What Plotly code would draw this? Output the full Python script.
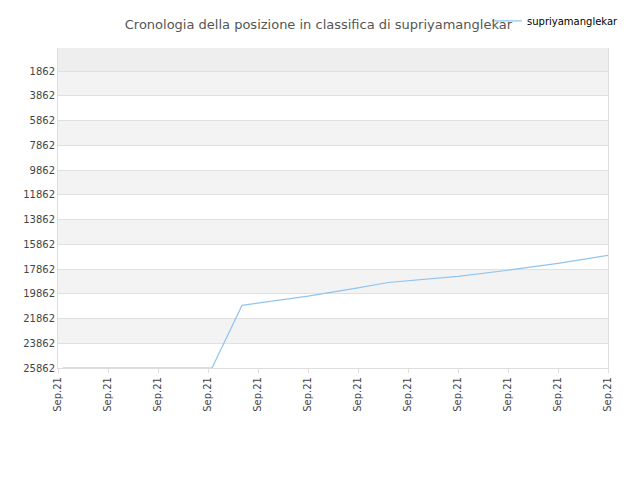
import plotly.graph_objects as go

x_vals = [0.1, 1, 2, 3.08, 3.68, 5.0, 6.0, 6.6, 8.0, 9.0, 10.0, 11.0]
ranks = [25862, 25862, 25862, 25862, 20800, 20060, 19390, 18950, 18450, 17960, 17400, 16760]
tick_pos = list(range(12))
tick_text = ["Sep.21"] * 12
y_ticks = [1862 + 2000 * i for i in range(13)]
y_text = [str(v) for v in y_ticks]

fig = go.Figure()
fig.add_trace(go.Scatter(x=x_vals, y=ranks, mode="lines", name="supriyamanglekar",
                         line=dict(color="#90c4f0", width=1.2)))
shapes = []
bounds = [0] + y_ticks
for i in range(len(bounds) - 1):
    if i == 0:
        col = "#eeeeee"
    elif i % 2 == 1:
        col = "#f3f3f3"
    else:
        continue
    shapes.append(dict(type="rect", xref="paper", yref="y", x0=0, x1=1, y0=bounds[i], y1=bounds[i + 1],
                       fillcolor=col, line_width=0, layer="below"))
fig.update_layout(
    width=640, height=480, plot_bgcolor="white", paper_bgcolor="white",
    margin=dict(l=50, r=40, t=40, b=120, autoexpand=False),
    title=dict(text="Cronologia della posizione in classifica di supriyamanglekar", x=0.485, y=0.975,
               font=dict(family="DejaVu Sans", size=13, color="#555")),
    shapes=shapes, showlegend=True,
    legend=dict(x=0.78, y=1.13, xanchor="left", yanchor="top", bgcolor="rgba(255,255,255,0.9)",
                font=dict(family="DejaVu Sans", size=10, color="#000")),
    font=dict(family="DejaVu Sans", size=10, color="#444"),
)
fig.update_xaxes(range=[0, 11], tickvals=tick_pos, ticktext=tick_text, tickangle=-90, automargin=False,
                 showgrid=False, showline=True, linecolor="#ddd", ticks="outside", ticklen=4, tickcolor="#ddd")
fig.update_yaxes(range=[25862, 0], tickvals=y_ticks, ticktext=y_text, showgrid=True, gridcolor="#e0e0e0",
                 automargin=False, zeroline=False, showline=True, linecolor="#ddd", mirror=True)
fig.write_html("out.html")
